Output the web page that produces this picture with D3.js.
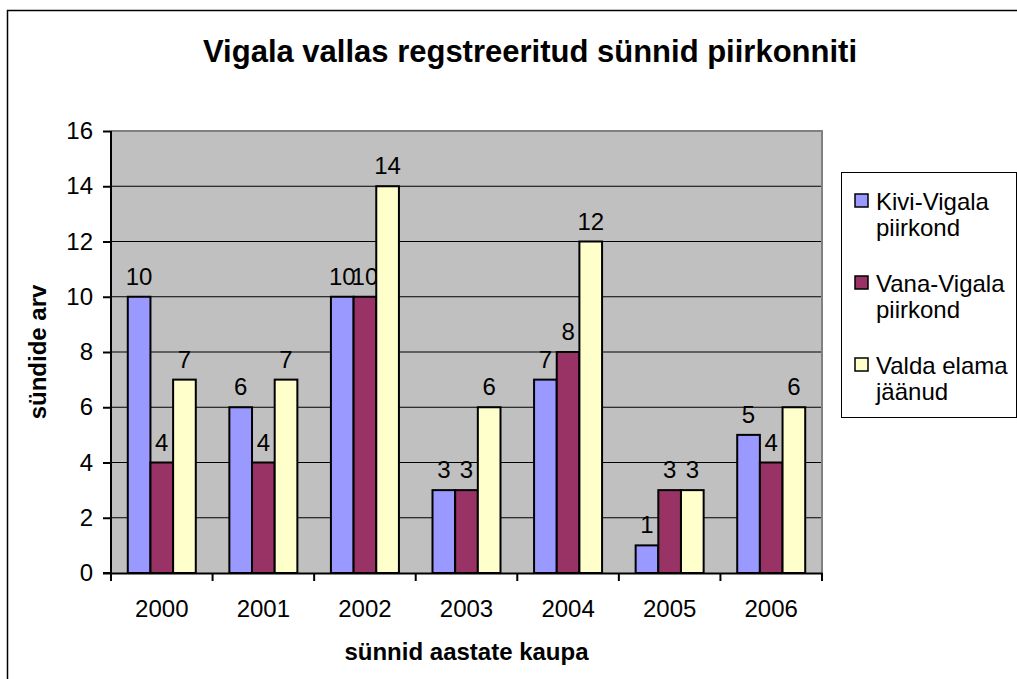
<!DOCTYPE html>
<html>
<head>
<meta charset="utf-8">
<script src="https://cdn.jsdelivr.net/npm/d3@7"></script>
<style>
body{margin:0;background:#fff;}
svg{font-family:"Liberation Sans",Arial,sans-serif;}
</style>
</head>
<body>
<div id="chart"></div>
<script>
var years = ["2000","2001","2002","2003","2004","2005","2006"]
var kivi = [10,6,10,3,7,1,5]
var vana = [4,4,10,3,8,3,4]
var valda = [7,7,14,6,12,3,6]
var seriesNames = [["Kivi-Vigala","piirkond"],["Vana-Vigala","piirkond"],["Valda elama","jäänud"]]
var colors = ["#9999FF","#993366","#FFFFCC"]
var yTicks = [0,2,4,6,8,10,12,14,16]

var series = [kivi,vana,valda]

var svg = d3.select("#chart")
.append("svg")
.attr("width",1017)
.attr("height",679)

// chart border (only top and left fall inside the picture)
svg.append("rect")
.attr("x",7.5).attr("y",10.5)
.attr("width",1020).attr("height",680)
.attr("fill","#fff").attr("stroke","#000").attr("stroke-width",1.5)

var plotLeft = 111, plotRight = 822, plotTop = 131, plotBottom = 573

var xScale = d3.scaleBand()
.domain(years)
.range([plotLeft,plotRight])

var inner = d3.scaleBand()
.domain([0,1,2])
.range([0,68])

var yScale = d3.scaleLinear()
.domain([0,16])
.range([plotBottom,plotTop])

// plot background
svg.append("rect")
.attr("x",plotLeft).attr("y",plotTop)
.attr("width",plotRight-plotLeft).attr("height",plotBottom-plotTop)
.attr("fill","#C0C0C0")

// gridlines
svg.append("g")
.selectAll("line")
.data(yTicks.slice(1,-1))
.enter().append("line")
.attr("x1",plotLeft).attr("x2",plotRight)
.attr("y1",function(d){return yScale(d)}).attr("y2",function(d){return yScale(d)})
.attr("stroke","#000").attr("stroke-width",1)

// plot border
svg.append("path")
.attr("d","M"+plotLeft+","+plotTop+"H"+plotRight+"V"+plotBottom)
.attr("fill","none").attr("stroke","#808080").attr("stroke-width",2)

// bars
series.forEach(function(s,si){
    var g = svg.append("g")
    g.selectAll("rect")
    .data(s)
    .enter().append("rect")
    .attr("x",function(d,i){return xScale(years[i]) + (xScale.bandwidth()-68)/2 + inner(si)})
    .attr("y",function(d){return yScale(d)})
    .attr("width",inner.bandwidth())
    .attr("height",function(d){return plotBottom-yScale(d)})
    .attr("fill",colors[si])
    .attr("stroke","#000").attr("stroke-width",2)

    g.selectAll("text")
    .data(s)
    .enter().append("text")
    .text(function(d){return d})
    .attr("x",function(d,i){return xScale(years[i]) + (xScale.bandwidth()-68)/2 + inner(si) + inner.bandwidth()/2})
    .attr("y",function(d){return yScale(d)-12})
    .attr("text-anchor","middle")
    .attr("font-size",24)
})

// axes
var yAxis = d3.axisLeft(yScale).tickValues(yTicks).tickSize(8).tickPadding(10)
var xAxis = d3.axisBottom(xScale).tickSize(0).tickPadding(27)

var gy = svg.append("g").attr("transform","translate("+plotLeft+",0)").call(yAxis)
gy.select(".domain").attr("stroke","#000").attr("stroke-width",2).attr("d","M-8,"+plotBottom+"H0V"+plotTop)
gy.selectAll("line").attr("stroke","#000").attr("stroke-width",2)
gy.selectAll("text").attr("font-size",24).attr("fill","#000").attr("font-family","Liberation Sans, Arial, sans-serif")

var gx = svg.append("g").attr("transform","translate(0,"+plotBottom+")").call(xAxis)
gx.select(".domain").attr("stroke","#000").attr("stroke-width",2)
gx.selectAll("text").attr("font-size",24).attr("fill","#000").attr("font-family","Liberation Sans, Arial, sans-serif")

// x ticks between categories
svg.append("g")
.selectAll("line")
.data(years.concat(["end"]))
.enter().append("line")
.attr("x1",function(d,i){return plotLeft + i*xScale.step()})
.attr("x2",function(d,i){return plotLeft + i*xScale.step()})
.attr("y1",plotBottom).attr("y2",plotBottom+8)
.attr("stroke","#000").attr("stroke-width",2)

// titles
svg.append("text")
.text("Vigala vallas regstreeritud sünnid piirkonniti")
.attr("x",530).attr("y",62)
.attr("text-anchor","middle")
.attr("font-size",31).attr("font-weight","bold")

svg.append("text")
.text("sünnid aastate kaupa")
.attr("x",(plotLeft+plotRight)/2).attr("y",660)
.attr("text-anchor","middle")
.attr("font-size",24).attr("font-weight","bold")

svg.append("text")
.text("sündide arv")
.attr("transform","translate(46,"+((plotTop+plotBottom)/2)+") rotate(-90)")
.attr("text-anchor","middle")
.attr("font-size",24).attr("font-weight","bold")

// legend
var legend = svg.append("g")
legend.append("rect")
.attr("x",841.5).attr("y",172.5)
.attr("width",175).attr("height",245)
.attr("fill","#fff").attr("stroke","#000")

seriesNames.forEach(function(n,i){
    var y0 = 189 + i*82
    legend.append("rect")
    .attr("x",855).attr("y",y0+5)
    .attr("width",13).attr("height",13)
    .attr("fill",colors[i]).attr("stroke","#000").attr("stroke-width",1.5)
    legend.append("text")
    .attr("x",876).attr("y",y0+21)
    .attr("font-size",24)
    .text(n[0])
    legend.append("text")
    .attr("x",876).attr("y",y0+47)
    .attr("font-size",24)
    .text(n[1])
})
</script>
</body>
</html>
